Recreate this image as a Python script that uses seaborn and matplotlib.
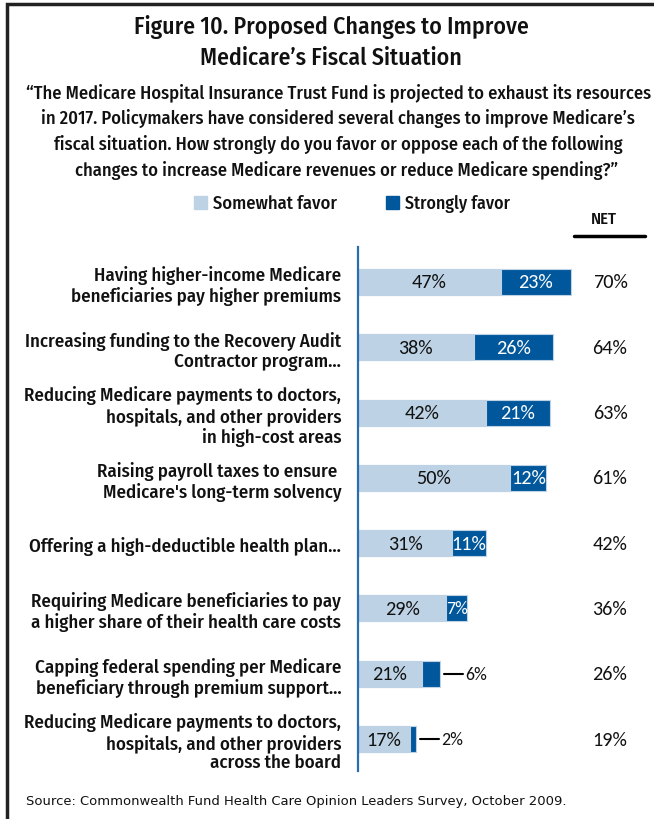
import pandas as pd
import matplotlib
matplotlib.use('Agg')
import matplotlib.pyplot as plt
import matplotlib.patches as mpatches
import matplotlib.transforms as mtransforms
import seaborn as sns

# Данные
items = [
    "Having higher-income Medicare\nbeneficiaries pay higher premiums",
    "Increasing funding to the Recovery Audit\nContractor program...",
    "Reducing Medicare payments to doctors,\nhospitals, and other providers\nin high-cost areas",
    "Raising payroll taxes to ensure \nMedicare's long-term solvency",
    "Offering a high-deductible health plan...",
    "Requiring Medicare beneficiaries to pay\na higher share of their health care costs",
    "Capping federal spending per Medicare\nbeneficiary through premium support...",
    "Reducing Medicare payments to doctors,\nhospitals, and other providers\nacross the board",
]
somewhat = [47, 38, 42, 50, 31, 29, 21, 17]
strongly = [23, 26, 21, 12, 11, 7, 6, 2]
net = [70, 64, 63, 61, 42, 36, 26, 19]
question_lines = [
    "\u201cThe Medicare Hospital Insurance Trust Fund is projected to exhaust its resources",
    "in 2017. Policymakers have considered several changes to improve Medicare\u2019s",
    "fiscal situation. How strongly do you favor or oppose each of the following",
    "changes to increase Medicare revenues or reduce Medicare spending?\u201d",
]

LIGHT = '#bdd3e5'
DARK = '#00579b'
SPINE = '#2a6db0'
INK = '#111111'
COND = ['Fira Sans Condensed', 'Roboto Condensed', 'DejaVu Sans']
NUM = ['Carlito', 'Lato', 'DejaVu Sans']

df = pd.DataFrame({'item': items, 'somewhat': somewhat, 'strongly': strongly, 'net': net})
df['total'] = df['somewhat'] + df['strongly']

sns.set_style('white')
W, H = 654, 820
fig = plt.figure(figsize=(W / 100, H / 100), dpi=100)


def fx(x):
    return x / W


def fy(y):
    return 1 - y / H


ax = fig.add_axes([fx(358), fy(772), 250 / W, 524 / H])

# Накопленные столбцы: полная длина тёмным, светлая часть поверх
sns.barplot(data=df, y='item', x='total', orient='h', color=DARK, saturation=1,
            width=0.4, edgecolor=LIGHT, linewidth=0.8, ax=ax)
sns.barplot(data=df, y='item', x='somewhat', orient='h', color=LIGHT, saturation=1,
            width=0.4, edgecolor=LIGHT, linewidth=0.8, ax=ax)

ax.set_xlim(0, 250 / 3.04)
ax.set_ylim(len(items) - 0.51, -0.536)
ax.set_xticks([])
ax.set_xlabel('')
ax.set_ylabel('')
for s in ['top', 'right', 'bottom']:
    ax.spines[s].set_visible(False)
ax.spines['left'].set_color(SPINE)
ax.spines['left'].set_linewidth(1.6)
ax.tick_params(axis='y', length=0, pad=12)
for lab in ax.get_yticklabels():
    lab.set_fontfamily(COND)
    lab.set_fontweight('medium')
    lab.set_fontsize(12)
    lab.set_color(INK)

trans = mtransforms.blended_transform_factory(fig.transFigure, ax.transData)
num_texts, small_texts = [], []
for i, row in df.iterrows():
    num_texts.append(ax.text(row['somewhat'] / 2, i, f"{row['somewhat']}%", ha='center',
                             va='center', fontsize=13, family=NUM, color=INK))
    if row['strongly'] >= 7:
        t = ax.text(row['somewhat'] + row['strongly'] / 2, i, f"{row['strongly']}%",
                    ha='center', va='center', fontsize=13, family=NUM, color='white')
        if row['strongly'] >= 10:
            num_texts.append(t)
        else:
            small_texts.append(t)
    else:
        x0 = row['total'] + 1.3
        ax.plot([x0, x0 + 6.2], [i, i], color='black', lw=1.5)
        small_texts.append(ax.text(x0 + 7.0, i, f"{row['strongly']}%", ha='left', va='center',
                                   fontsize=12, family=NUM, color=INK))
    num_texts.append(ax.text(fx(610), i, f"{row['net']}%", transform=trans, ha='center',
                             va='center', fontsize=13, family=NUM, color=INK))

# Заголовок и вопрос
t1 = fig.text(fx(331), fy(27), "Figure 10. Proposed Changes to Improve", ha='center', va='center',
              fontsize=18, family=COND, fontweight='medium', color=INK)
t2 = fig.text(fx(331), fy(58), "Medicare\u2019s Fiscal Situation", ha='center', va='center',
              fontsize=18, family=COND, fontweight='medium', color=INK)
q_texts = []
for line, y, x in zip(question_lines, [93, 118, 144, 170], [339, 338, 338, 347]):
    q_texts.append(fig.text(fx(x), fy(y), line, ha='center', va='center', fontsize=13,
                            family=COND, fontweight='medium', color=INK))

# Легенда
leg_texts = []
for x0, color, label in [(194, LIGHT, 'Somewhat favor'), (386, DARK, 'Strongly favor')]:
    fig.patches.append(mpatches.Rectangle((fx(x0), fy(210)), 13 / W, 13 / H, color=color,
                                          transform=fig.transFigure))
    leg_texts.append(fig.text(fx(x0 + 19), fy(204), label, ha='left', va='center', fontsize=13,
                              family=COND, fontweight='medium', color=INK))

tn = fig.text(fx(604), fy(219), 'NET', ha='center', va='center', fontsize=12.5,
              family=COND, fontweight='medium', color=INK)
fig.lines.append(plt.Line2D([fx(574), fx(645)], [fy(237), fy(237)], color='black', lw=2.5,
                            transform=fig.transFigure))

ts = fig.text(fx(26), fy(802), 'Source: Commonwealth Fund Health Care Opinion Leaders Survey, October 2009.',
              ha='left', va='center', fontsize=10, family=['DejaVu Sans'], color=INK)

# Рамка
fig.patches.append(mpatches.Rectangle((fx(7), -0.2), 1.0, fy(5) + 0.2, fill=False,
                                      edgecolor='#222222', lw=2.5, transform=fig.transFigure))

# Подгоняем размеры шрифтов под ширину строк оригинала
fig.canvas.draw()
renderer = fig.canvas.get_renderer()


def fit(texts, target):
    for _ in range(2):
        w = max(t.get_window_extent(renderer).width for t in texts)
        for t in texts:
            t.set_fontsize(t.get_fontsize() * target / w)


fit([t1], 393)
fit([t2], 262)
fit(q_texts[:1], 626)
for t in q_texts[1:]:
    t.set_fontsize(q_texts[0].get_fontsize())
fit(leg_texts[:1], 124)
fit(leg_texts[1:], 105)
fit([tn], 26)
fit([ts], 541)
fit(num_texts[:1], 35)
for t in num_texts[1:]:
    t.set_fontsize(num_texts[0].get_fontsize())
fit(small_texts[-2:-1], 22)
for t in small_texts:
    t.set_fontsize(small_texts[-2].get_fontsize())

ylabs = ax.get_yticklabels()
fit(ylabs, 317)
# межстрочный интервал подписей категорий ~20.5 px (шаг = разница высот 3- и 2-строчной подписи)
spacing = 1.2
for _ in range(3):
    for lab in ylabs:
        lab.set_linespacing(spacing)
    step = ylabs[2].get_window_extent(renderer).height - ylabs[0].get_window_extent(renderer).height
    spacing *= 20.5 / step
for lab in ylabs:
    lab.set_linespacing(spacing)

fig.savefig('out.png', dpi=100)
